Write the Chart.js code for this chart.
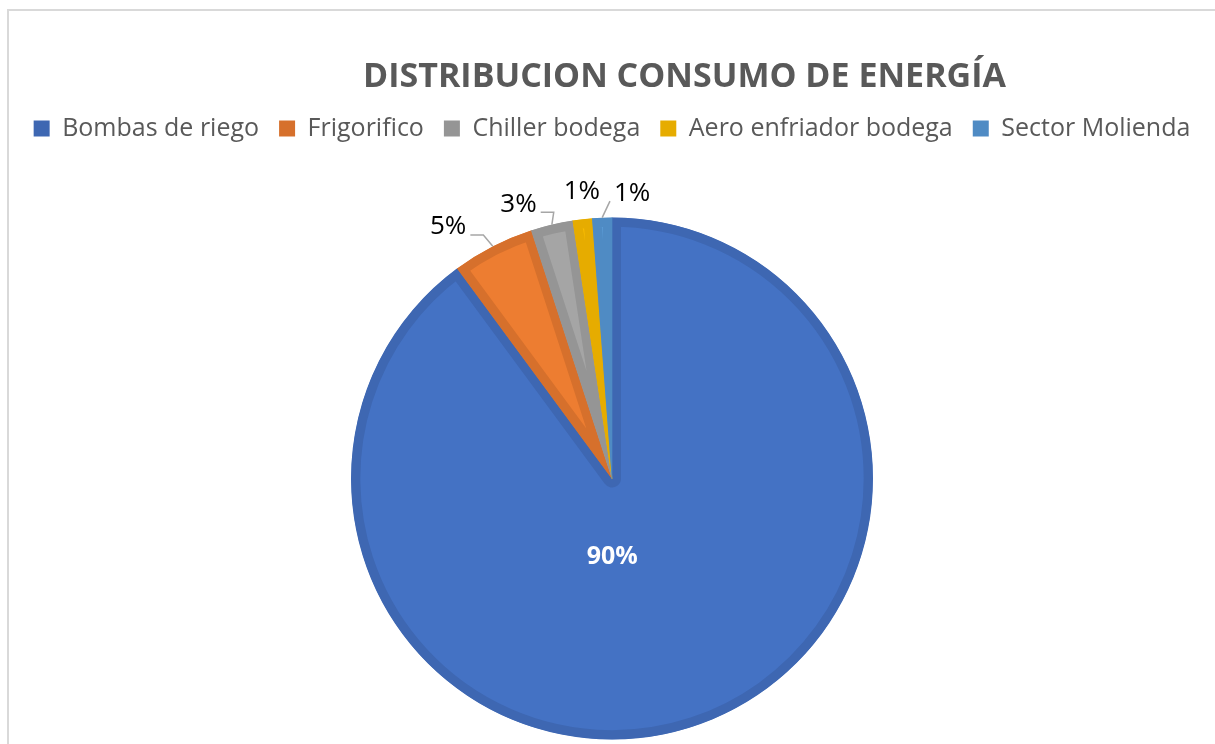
<!DOCTYPE html>
<html>
<head>
<meta charset="utf-8">
<script src="https://cdn.jsdelivr.net/npm/chart.js@4/dist/chart.umd.min.js"></script>
<style>
  html, body { margin: 0; padding: 0; background: #fff; overflow: hidden; }
  #grafico { display: block; }
</style>
</head>
<body>
<canvas id="grafico" width="1215" height="806" style="width:1215px;height:806px"></canvas>
<script>
const categories = ['Bombas de riego', 'Frigorifico', 'Chiller bodega', 'Aero enfriador bodega', 'Sector Molienda'];
const values = [89.9, 5.1, 2.6, 1.2, 1.2];
const fillColors = ['#4472C4', '#ED7D31', '#A5A5A5', '#FFC000', '#5B9BD5'];
const edgeColors = ['#3E67B2', '#D6702C', '#959595', '#E6AC00', '#4F8BC4'];
const chartTitle = 'DISTRIBUCION CONSUMO DE ENERGÍA';

// where each percentage label sits: shift from slice middle (deg) and distance (x radius)
const labelSpots = [
    { dAngle: 18, k: 0.30, inside: true },
    { dAngle: -5.9, k: 1.15, leader: 'elbow' },
    { dAngle: -5.5, k: 1.11, leader: 'elbow' },
    { dAngle: 0.5, k: 1.107 },
    { dAngle: 6.2, k: 1.096, leader: 'straight' }
];

const decoPlugin = {
    id: 'deco',
    beforeDraw(chart) {
        const ctx = chart.ctx;
        ctx.save();
        ctx.fillStyle = '#fff';
        ctx.fillRect(0, 0, chart.width, chart.height);
        ctx.strokeStyle = '#d9d9d9';
        ctx.lineWidth = 2;
        ctx.beginPath();
        ctx.moveTo(8, chart.height);
        ctx.lineTo(8, 10);
        ctx.lineTo(chart.width, 10);
        ctx.stroke();
        ctx.restore();
    },
    afterDraw(chart) {
        const ctx = chart.ctx;
        ctx.save();
        ctx.font = 'bold 34px "Open Sans"';
        ctx.fillStyle = '#595959';
        ctx.textAlign = 'center';
        ctx.textBaseline = 'alphabetic';
        ctx.fillText(chartTitle, 684.5, 87);

        const total = values.reduce((a, b) => a + b, 0);
        const arcs = chart.getDatasetMeta(0).data;
        arcs.forEach((arc, i) => {
            const spot = labelSpots[i];
            const mid = (arc.startAngle + arc.endAngle) / 2;
            const a = mid + spot.dAngle * Math.PI / 180;
            const r = arc.outerRadius;
            const lx = arc.x + Math.cos(a) * r * spot.k;
            const ly = arc.y + Math.sin(a) * r * spot.k;
            const text = Math.round(values[i] / total * 100) + '%';
            ctx.font = spot.inside ? 'bold 25px "Open Sans"' : '26px "Open Sans"';
            ctx.fillStyle = spot.inside ? '#ffffff' : '#000000';
            ctx.textAlign = 'center';
            ctx.textBaseline = 'middle';
            ctx.fillText(text, lx, ly);

            if (spot.leader) {
                const w = ctx.measureText(text).width;
                const ex = arc.x + Math.cos(mid) * r;
                const ey = arc.y + Math.sin(mid) * r;
                ctx.strokeStyle = '#a6a6a6';
                ctx.lineWidth = 1.5;
                ctx.beginPath();
                if (spot.leader === 'elbow') {
                    const sx = lx + w / 2 + 4;
                    const sy = ly + 8;
                    ctx.moveTo(sx, sy);
                    ctx.lineTo(sx + 13, sy);
                    ctx.lineTo(ex, ey);
                } else {
                    ctx.moveTo(lx - w / 2 - 4, ly + 8);
                    ctx.lineTo(ex, ey);
                }
                ctx.stroke();
            }
        });
        ctx.restore();
    }
};

const ctx = document.getElementById('grafico').getContext('2d');
const chart = new Chart(ctx, {
    type: 'pie',
    data: {
        labels: categories,
        datasets: [{
            data: values,
            backgroundColor: fillColors,
            borderColor: edgeColors,
            borderWidth: 9,
            borderAlign: 'inner',
            radius: 261
        }]
    },
    options: {
        responsive: false,
        animation: false,
        devicePixelRatio: 1,
        events: [],
        layout: { padding: { top: 96, left: 9, right: 0, bottom: 0 } },
        plugins: {
            title: { display: false },
            tooltip: { enabled: false },
            legend: {
                position: 'top',
                labels: {
                    color: '#595959',
                    font: { family: '"Open Sans"', size: 25 },
                    boxWidth: 16,
                    boxHeight: 16,
                    padding: 20,
                    generateLabels(ch) {
                        return categories.map((c, i) => ({
                            text: c,
                            fillStyle: edgeColors[i],
                            strokeStyle: edgeColors[i],
                            lineWidth: 0,
                            fontColor: '#595959',
                            index: i
                        }));
                    }
                }
            }
        }
    },
    plugins: [decoPlugin]
});
</script>
</body>
</html>
